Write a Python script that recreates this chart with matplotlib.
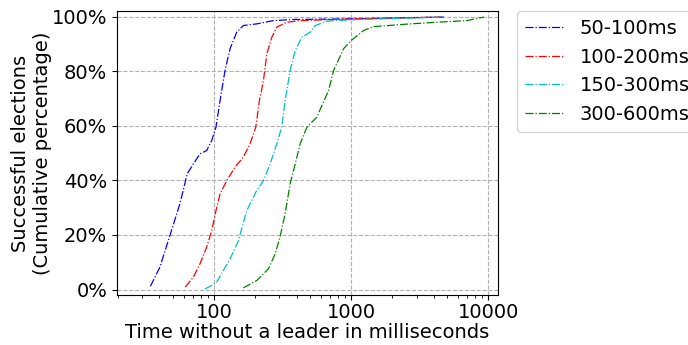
import numpy as np
import matplotlib
matplotlib.use("Agg")
import matplotlib.pyplot as plt
from matplotlib.ticker import PercentFormatter, FixedLocator, FixedFormatter

labels = ["50-100ms", "100-200ms", "150-300ms", "300-600ms"]
colors = ["b", "r", "c", "g"]

# time (ms), cumulative percentage
t_50 = [34.4, 40.3, 47.7, 56.4, 63.8, 70.7, 79, 88.4, 96.3, 103.4, 110.7, 120.3,
        130.9, 146.6, 163.8, 205, 271, 380, 881, 4740]
p_50 = [1.2, 8.2, 19.8, 31.4, 42.4, 46, 49.7, 50.9, 54.6, 59.5, 69.2, 80.2,
        88.2, 94.3, 96.7, 97.3, 98.5, 98.9, 99.1, 99.8]

t_100 = [61.7, 70.6, 79, 88.4, 96.3, 103.4, 110.7, 123.8, 142.3, 163.7, 183.2,
         201.7, 214.4, 229.5, 242.9, 264, 287, 340, 425, 1000, 4490]
p_100 = [0.9, 4.5, 9.4, 15.5, 21.6, 28.9, 35, 39.9, 44.8, 48.5, 53.4,
         59.5, 69.2, 76.6, 86.3, 92.4, 96.1, 97.9, 98.5, 99.1, 99.8]

t_150 = [85.9, 96.2, 104.5, 117, 130.9, 150.6, 173.3, 205, 229.5, 256.6, 287,
         312, 330, 359, 391, 437, 504, 548, 666, 1000, 4740]
p_150 = [0.2, 1.5, 2.7, 7, 11.2, 17.9, 28.9, 36.3, 39.9, 46, 53.4,
         59.5, 69.2, 80.2, 87.5, 92.4, 94.3, 96.7, 98.3, 98.8, 99.8]

t_300 = [163.8, 205, 249.5, 279, 303, 330, 359, 391, 425, 476, 562, 612, 685,
         745, 881, 1000, 1237, 1464, 2706, 4240, 7010, 9290]
p_300 = [0.6, 3.3, 7.6, 13, 19.2, 27.7, 38.7, 46, 53.4, 59.5, 63.1, 67.4, 72.9,
         80.2, 88.2, 91.2, 94.9, 96.3, 97.3, 97.9, 98.5, 99.8]

series = [(t_50, p_50), (t_100, p_100), (t_150, p_150), (t_300, p_300)]

plt.rcParams["font.size"] = 14
fig = plt.figure(figsize=(6.88, 3.45), dpi=100)
ax = fig.add_axes([0.170, 0.145, 0.554, 0.823])

for (t, p), c, lab in zip(series, colors, labels):
    ax.plot(t, p, linestyle="-.", color=c, linewidth=0.9, label=lab)

ax.set_xscale("log")
ax.set_xlim(19.6, 11800)
ax.set_ylim(-2, 102)
ax.set_yticks([0, 20, 40, 60, 80, 100])
ax.yaxis.set_major_formatter(PercentFormatter(decimals=0))
ax.xaxis.set_major_locator(FixedLocator([100, 1000, 10000]))
ax.xaxis.set_major_formatter(FixedFormatter(["100", "1000", "10000"]))
ax.tick_params(axis="x", pad=2)
ax.grid(True, linestyle="--", color="#b0b0b0", linewidth=0.8)

ax.set_xlabel("Time without a leader in milliseconds", labelpad=1)
ax.set_ylabel("Successful elections\n(Cumulative percentage)", labelpad=0)
ax.legend(loc="upper left", bbox_to_anchor=(1.05, 1.0), borderaxespad=0)

fig.savefig("out.png")
